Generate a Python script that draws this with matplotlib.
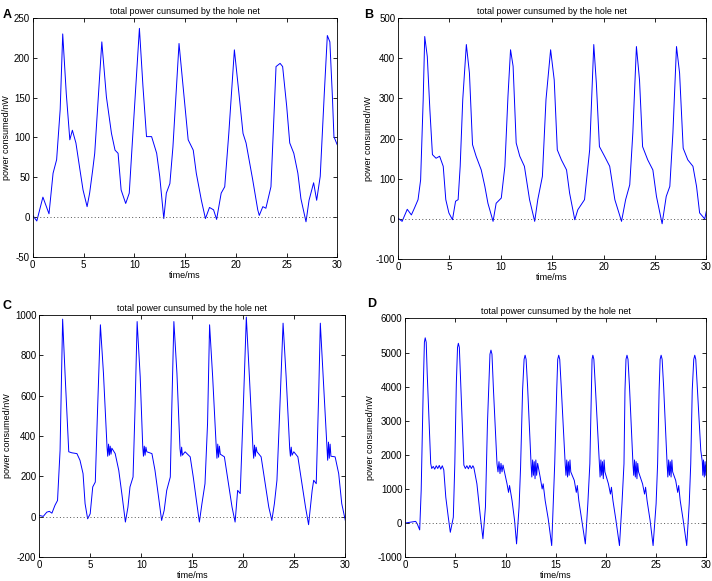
import matplotlib
matplotlib.use("Agg")
import matplotlib.pyplot as plt

plt.rcParams.update({"font.family": ["Liberation Sans", "DejaVu Sans"], "font.size": 7,
                     "axes.unicode_minus": False})

# ── Panel A ──
time_a = [0, 0.4, 1.0, 1.6, 2.0, 2.35, 2.7, 2.95, 3.3, 3.65, 3.9, 4.25, 4.65, 4.95, 5.35,
          5.6, 5.9, 6.1, 6.8, 7.25, 7.75, 8.1, 8.4, 8.7, 9.15, 9.5, 9.8, 10.5, 10.85, 11.2,
          11.7, 12.2, 12.5, 12.9, 13.15, 13.5, 13.8, 14.4, 14.8, 15.3, 15.8, 16.1, 16.6,
          17.0, 17.4, 17.8, 18.1, 18.55, 18.9, 19.3, 19.85, 20.3, 20.7, 21.0, 21.65, 22.15,
          22.3, 22.65, 22.95, 23.45, 23.95, 24.35, 24.6, 25.0, 25.3, 25.7, 26.1, 26.4, 26.9,
          27.2, 27.65, 27.95, 28.3, 28.7, 29.0, 29.25, 29.5, 29.65, 29.9, 30]
power_a = [2, -5, 25, 4, 55, 72, 135, 230, 155, 97, 109, 93, 59, 34, 13,
           30, 59, 80, 220, 151, 105, 84, 80, 34, 17, 30, 93, 237, 164, 101,
           101, 80, 51, -2, 30, 42, 88, 218, 164, 97, 84, 55, 21,
           -2, 12, 9, -3, 30, 38, 105, 210, 155, 105, 93, 47, 9,
           2, 13, 11, 38, 189, 193, 189, 139, 93, 80, 55, 23, -6,
           21, 43, 21, 51, 155, 228, 220, 151, 101, 93, 90]

# ── Panel B ──
time_b = [0, 0.4, 0.9, 1.3, 1.6, 1.95, 2.2, 2.45, 2.6, 2.85, 3.1, 3.35, 3.7, 4.05, 4.4,
          4.65, 4.95, 5.3, 5.6, 5.85, 6.05, 6.3, 6.65, 6.95, 7.25, 7.6, 8.1, 8.45, 8.75,
          9.25, 9.55, 10.05, 10.4, 10.7, 10.95, 11.2, 11.5, 11.85, 12.3, 12.8, 13.3, 13.6,
          14.05, 14.4, 14.85, 15.2, 15.5, 15.9, 16.4, 16.7, 17.2, 17.5, 18.15, 18.65, 19.05,
          19.3, 19.6, 20.1, 20.6, 21.1, 21.75, 22.15, 22.55, 22.85, 23.2, 23.5, 23.8, 24.3,
          24.8, 25.15, 25.7, 26.1, 26.45, 26.75, 27.1, 27.4, 27.75, 28.2, 28.7, 29.05,
          29.35, 29.85, 30]
power_b = [2, -6, 24, 10, 27, 48, 97, 297, 454, 404, 272, 160, 151, 156, 131,
           48, 15, -2, 44, 48, 131, 297, 434, 363, 185, 156, 122, 81, 39,
           -6, 39, 52, 131, 305, 421, 380, 189, 156, 131, 48, -6, 48,
           106, 297, 421, 346, 172, 147, 122, 64, -2, 23, 48, 172, 434,
           338, 180, 156, 131, 48, -6, 48, 85, 214, 429, 346, 180, 147,
           122, 56, -12, 56, 81, 214, 429, 363, 176, 147, 131, 81,
           15, 0, 19]

# ── Panel C ──
time_c = [0, 0.4, 0.75, 1.0, 1.25, 1.55, 1.8, 2.05, 2.3, 2.55, 2.9, 3.2, 3.7, 4.0, 4.3,
          4.5, 4.75, 5.0, 5.25, 5.5, 5.7, 6.0, 6.3, 6.65, 6.72, 6.8, 6.88, 6.96, 7.04, 7.12,
          7.45, 7.8, 8.1, 8.45, 8.7,
          8.9, 9.2, 9.4, 9.6, 9.9, 10.15, 10.22, 10.3, 10.38, 10.46, 10.55, 11.05, 11.35,
          11.7, 12.0, 12.25, 12.5,
          12.85, 13.0, 13.2, 13.5, 13.8, 13.88, 13.96, 14.04, 14.3, 14.8, 15.1, 15.45, 15.7,
          15.95, 16.25, 16.5,
          16.7, 17.0, 17.35, 17.42, 17.5, 17.58, 17.66, 17.75, 18.15, 18.55, 18.9, 19.2,
          19.45, 19.7, 19.95, 20.3,
          20.6, 20.95, 21.02, 21.1, 21.18, 21.26, 21.35, 21.75, 22.15, 22.5, 22.8, 23.05,
          23.3, 23.55, 23.9, 24.2,
          24.55, 24.62, 24.7, 24.78, 24.95, 25.35, 25.75, 26.1, 26.4, 26.75, 26.9, 27.15,
          27.4, 27.55, 27.9,
          28.2, 28.27, 28.35, 28.43, 28.51, 28.59, 29.0, 29.35, 29.65, 30]
power_c = [7, 2, 23, 27, 18, 57, 81, 330, 979, 694, 322, 317, 313, 280, 214,
           65, -10, 15, 148, 172, 495, 951, 711, 346, 300, 360, 305, 350, 310, 340,
           313, 230, 115, -26, 48,
           148, 197, 545, 967, 694, 346, 300, 350, 305, 345, 322, 313, 230,
           98, -18, 32, 131,
           197, 545, 967, 711, 338, 300, 345, 305, 322, 297, 197, 65, -26,
           65, 164, 462,
           951, 694, 346, 290, 360, 295, 350, 310, 297, 164, 48, -26,
           131, 115, 462, 989,
           694, 338, 290, 355, 300, 345, 322, 297, 164, 48, -18, 65,
           181, 495, 959, 694,
           338, 300, 345, 305, 322, 297, 164, 48, -39, 131, 181, 164,
           628, 959, 628,
           346, 280, 370, 290, 360, 300, 297, 214, 65, -18]

# ── Panel D ──
time_d = [0, 1.05, 1.2, 1.45, 1.6, 1.8, 1.92, 2.0, 2.1, 2.2, 2.55, 2.65, 2.8, 2.95, 3.1,
          3.25, 3.4, 3.55, 3.7, 3.85, 4.05, 4.3, 4.5,
          4.8, 4.95, 5.1, 5.22, 5.3, 5.4, 5.5, 5.85, 6.0, 6.15, 6.3, 6.45, 6.6, 6.75, 6.85,
          7.15, 7.5, 7.75, 8.0, 8.2, 8.45, 8.55, 8.65,
          8.8, 9.15, 9.25, 9.35, 9.45, 9.55, 9.65, 9.75, 10.15, 10.3, 10.4, 10.65, 10.9,
          11.1, 11.35, 11.5, 11.7, 11.85, 11.95, 12.05,
          12.2, 12.55, 12.62, 12.7, 12.78, 12.86, 12.94, 13.02, 13.1, 13.2, 13.45, 13.65,
          13.75, 13.95, 14.25, 14.6, 14.75, 14.9, 15.1, 15.2, 15.3, 15.4,
          15.55, 15.95, 16.02, 16.1, 16.18, 16.26, 16.34, 16.42, 16.5, 16.85, 17.05, 17.15,
          17.3, 17.6, 17.95, 18.2, 18.4, 18.55, 18.62, 18.7, 18.8,
          18.95, 19.35, 19.42, 19.5, 19.58, 19.66, 19.74, 19.82, 19.9, 20.25, 20.45, 20.55,
          20.7, 21.0, 21.35, 21.6, 21.8, 21.9, 22.0, 22.1, 22.2,
          22.35, 22.7, 22.77, 22.85, 22.93, 23.01, 23.09, 23.17, 23.25, 23.65, 23.85, 23.95,
          24.1, 24.4, 24.7, 25.0, 25.15, 25.3, 25.4, 25.5, 25.6,
          25.75, 26.1, 26.17, 26.25, 26.33, 26.41, 26.49, 26.57, 26.65, 26.95, 27.15, 27.25,
          27.4, 27.7, 28.05, 28.3, 28.45, 28.6, 28.75, 28.85, 28.95,
          29.1, 29.45, 29.6, 29.65, 29.72, 29.8, 29.88, 29.95, 30]
power_d = [0, 50, -20, -200, 960, 3900, 5300, 5430, 5300, 4380, 1740, 1600, 1660, 1580, 1680,
           1600, 1690, 1580, 1680, 1560, 760, 170, -270,
           170, 1740, 4090, 5150, 5270, 5150, 4380, 1700, 1600, 1680, 1590, 1690, 1600, 1680, 1620,
           1150, 170, -460, 470, 2920, 4950, 5070, 4950,
           3900, 1740, 1500, 1800, 1450, 1750, 1500, 1700, 1150, 900, 1100, 660, 80,
           -610, 470, 1640, 3900, 4800, 4920, 4800,
           3990, 1700, 1350, 1850, 1400, 1800, 1300, 1850, 1400, 1750, 1350, 1000,
           1150, 660, 130, -660, 570, 1740, 3900, 4800, 4920, 4800,
           3990, 1700, 1400, 1850, 1350, 1800, 1400, 1850, 1500, 1250, 900, 1100,
           660, 80, -610, 570, 1740, 3900, 4800, 4920, 4800,
           3990, 1700, 1350, 1850, 1400, 1800, 1300, 1850, 1500, 1150, 850, 1050,
           660, 80, -660, 570, 1740, 3900, 4800, 4920, 4800,
           3990, 1700, 1400, 1850, 1350, 1800, 1300, 1750, 1500, 1150, 850, 1050,
           660, 80, -660, 570, 1740, 3900, 4800, 4920, 4800,
           3990, 1700, 1350, 1850, 1400, 1800, 1350, 1850, 1500, 1250, 900, 1100,
           660, 80, -660, 570, 1740, 3900, 4800, 4920, 4800,
           3990, 2130, 1800, 1400, 1850, 1350, 1800, 1400, 1700]

panels = [
    ("A", time_a, power_a, (-50, 250), [-50, 0, 50, 100, 150, 200, 250]),
    ("B", time_b, power_b, (-100, 500), [-100, 0, 100, 200, 300, 400, 500]),
    ("C", time_c, power_c, (-200, 1000), [-200, 0, 200, 400, 600, 800, 1000]),
    ("D", time_d, power_d, (-1000, 6000), [-1000, 0, 1000, 2000, 3000, 4000, 5000, 6000]),
]
# axes rectangles in figure fraction
rects = [
    [0.046, 0.558, 0.428, 0.411],
    [0.559, 0.554, 0.433, 0.415],
    [0.055, 0.041, 0.430, 0.417],
    [0.569, 0.041, 0.423, 0.411],
]
letter_pos = [(0.004, 0.985), (0.511, 0.985), (0.004, 0.484), (0.516, 0.487)]

fig = plt.figure(figsize=(7.12, 5.81), dpi=100)
for (label, t, p, ylim, yticks), rect, lp in zip(panels, rects, letter_pos):
    ax = fig.add_axes(rect)
    ax.plot(t, p, color="#0000ff", linewidth=0.7)
    ax.axhline(0, color="#555555", linestyle=(0, (1, 2.5)), linewidth=0.7)
    ax.set_xlim(0, 30)
    ax.set_ylim(*ylim)
    ax.set_xticks([0, 5, 10, 15, 20, 25, 30])
    ax.set_yticks(yticks)
    ax.tick_params(direction="in", length=3, width=0.6, top=True, right=True,
                   labelsize=7, pad=2)
    for s in ax.spines.values():
        s.set_linewidth(0.6)
    ax.set_title("total power cunsumed by the hole net", fontsize=6.5, pad=3)
    ax.set_xlabel("time/ms", fontsize=6.5, labelpad=1)
    ax.set_ylabel("power consumed/nW", fontsize=6.5, labelpad=2)
    fig.text(lp[0], lp[1], label, fontsize=9, fontweight="bold", va="top", ha="left")

fig.savefig("out.png", dpi=100)
